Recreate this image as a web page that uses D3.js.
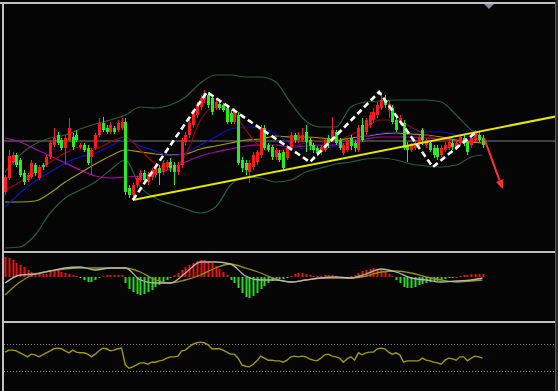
<!DOCTYPE html>
<html><head><meta charset="utf-8">
<script src="https://cdn.jsdelivr.net/npm/d3@7/dist/d3.min.js"></script>
<style>html,body{margin:0;padding:0;background:#000;}svg{display:block;}</style>
</head><body>
<svg id="c" width="558" height="391"></svg>
<script>
// ---- Data (price units) ----
const opens  = [58,72,88,95,90,77,70,73,85,72,85,85,93,105,115,110,102,110,113,115,103,105,102,93,102,115,127,122,118,122,120,122,128,62,55,65,70,77,68,73,75,82,78,83,88,85,78,85,108,115,125,135,143,150,155,152,142,146,145,142,137,128,135,90,87,78,83,88,95,122,105,103,93,97,98,92,103,115,110,110,118,110,105,102,98,100,112,110,118,110,97,100,112,107,100,125,118,125,130,135,142,150,140,142,130,128,127,105,100,102,107,120,105,107,102,102,95,100,102,107,102,107,112,108,105,110,115,112];
const closes = [73,94,95,85,75,68,75,87,77,83,83,93,107,112,107,102,112,122,103,110,105,100,87,100,115,127,120,118,125,118,127,128,58,55,65,72,77,70,75,80,82,77,87,88,82,78,85,110,115,127,138,145,152,157,145,138,148,142,140,128,128,138,87,82,80,87,95,98,122,102,100,93,100,90,82,102,115,110,115,115,108,104,100,97,103,110,107,120,107,102,105,110,104,102,122,110,130,135,138,145,150,145,146,128,120,132,102,100,105,107,112,110,110,100,95,93,102,105,108,103,107,113,107,98,112,117,110,105];
const highs  = [75,100,98,97,92,80,77,90,87,85,87,95,110,122,118,112,115,132,117,120,107,107,105,102,117,132,133,125,128,124,130,132,132,65,67,74,80,80,78,82,85,85,90,90,92,88,88,112,118,130,140,148,155,160,158,155,152,150,147,145,140,142,138,93,90,90,98,100,125,125,107,105,102,100,100,105,118,117,118,122,125,112,107,104,105,112,115,133,120,112,107,112,115,110,125,132,132,138,142,148,158,155,150,145,132,135,130,108,107,110,115,122,112,110,105,105,105,108,110,110,110,115,115,110,115,120,118,115];
const lows   = [55,70,85,83,73,65,68,71,74,70,80,83,91,103,105,100,85,108,100,108,101,98,85,75,100,113,118,116,116,116,118,120,55,52,50,62,68,67,65,70,72,65,75,80,78,65,75,82,105,112,122,132,140,147,142,135,140,140,138,126,126,126,85,78,75,67,80,85,92,100,98,90,90,88,80,90,100,107,107,108,98,100,97,94,95,98,102,108,105,100,95,98,100,98,98,108,115,122,127,132,140,142,132,126,118,125,100,88,98,100,104,105,102,98,92,90,93,98,100,100,100,105,104,95,102,108,108,102];

// indicator lines, sampled at these candle indices
const lineIdx  = [0,4,8,12,16,20,24,28,32,36,40,44,48,52,56,60,64,68,72,76,80,84,88,92,96,100,104,108,112,116,120,124,127];
const bbUpper  = [78,95,106,112,115,121,126,130,135,143,142,145,153,167,175,175,173,173,168,147,129,123,123,143,148,149,150,150,150,148,135,120,112];
const bbLower  = [2,3,15,37,52,60,68,80,90,63,52,46,41,37,43,65,73,72,68,70,78,82,86,88,91,92,90,86,84,83,85,93,95];
const maRed    = [60,68,78,88,97,103,101,108,113,100,86,80,95,130,143,141,120,103,98,103,107,110,110,115,123,130,130,123,115,110,108,110,108];
const maBlue   = [43,57,69,78,87,93,97,104,110,104,99,94,97,105,113,121,123,122,116,106,101,101,104,109,114,117,118,118,118,118,115,113,110];
const maOlive  = [48,48,49,57,68,77,86,94,100,98,96,95,96,101,104,107,110,111,114,113,113,112,110,112,114,116,117,116,115,113,110,108,107];
const maPurple = [112,108,101,94,87,80,74,72,73,74,77,81,88,94,98,101,104,105,105,103,104,105,105,108,111,113,113,113,112,111,110,108,108];
const refPrice = 109;

// pattern drawings: [candle index, price]
const wPattern  = [[34,50],[53.7,158],[81.1,88],[99.5,158],[113.8,83],[125.3,118]];
const trendLine = [[34,50],[147.1,134]];
const arrowLine = [[127.4,112],[132.4,61]];

// MACD
const macdHist = [20,19,17,14,12,10,7,5,4,3,3,3,5,7,7,5,4,3,2,1,-1,-3,-5,-5,-3,-1,1,2,2,2,2,2,-6,-12,-15,-17,-18,-17,-15,-13,-10,-8,-5,-3,-1,2,4,7,10,12,14,16,17,17,16,14,11,8,5,2,-3,-6,-11,-16,-20,-21,-19,-16,-12,-9,-6,-4,-3,-2,-2,-1,1,3,4,4,3,2,1,1,1,2,2,2,1,-1,-1,0,1,2,4,6,7,8,9,8,7,5,3,1,-3,-6,-10,-11,-11,-10,-8,-7,-6,-5,-4,-4,-3,-2,-1,-1,0,1,2,2,3,3,3,3];
const macdLine = [-6,2,3,6,9,10,7,9,9,-3,-6,-6,4,15,15,13,1,-3,-3,-5,-3,-1,0,-1,3,8,5,-1,-3,-5,-4,-3,-1];
const signalLine = [-18,-5,3,6,8,9,9,9,9,5,-3,-6,-3,2,9,13,9,4,-2,-5,-3,-1,-1,-1,1,5,6,4,0,-3,-5,-4,-3];

// RSI
const rsi = [58,61,61,60,57,54,51,55,54,51,54,57,60,63,64,63,60,57,61,58,57,57,55,51,55,60,64,63,60,61,63,64,39,34,36,39,42,42,40,43,43,45,46,49,51,51,52,60,61,66,70,72,73,72,69,63,63,63,61,58,55,55,49,39,37,36,40,45,52,49,46,46,45,45,43,46,51,52,51,52,51,48,46,45,49,54,55,52,51,49,43,48,51,46,57,54,57,58,58,63,64,63,58,55,57,54,43,45,45,45,45,49,46,45,43,42,40,46,49,48,46,51,51,45,49,52,51,49];
const rsiLevels = [70,30];

// ---- Drawing ----
const svg = d3.select('#c');
const W = 558, H = 391, R = 555;
svg.append('rect').attr('width',W).attr('height',H).attr('fill','#050505');
svg.append('rect').attr('x',R+1).attr('width',W-R-1).attr('height',H).attr('fill','#2a2a2a');

const x = d3.scaleLinear().domain([0,127]).range([5,482.5]);
const yP = d3.scaleLinear().domain([0,247]).range([250,3]);
const yM = d3.scaleLinear().domain([-45,25]).range([322,252]);
const yR = d3.scaleLinear().domain([0,100]).range([391,324]);

const defs = svg.append('defs');
defs.append('clipPath').attr('id','cm').append('rect').attr('x',4).attr('y',4).attr('width',R-4).attr('height',247);
defs.append('clipPath').attr('id','cd').append('rect').attr('x',4).attr('y',254).attr('width',R-4).attr('height',67);
defs.append('clipPath').attr('id','cr').append('rect').attr('x',4).attr('y',324).attr('width',R-4).attr('height',67);

const main = svg.append('g').attr('clip-path','url(#cm)');
const macdG = svg.append('g').attr('clip-path','url(#cd)');
const rsiG = svg.append('g').attr('clip-path','url(#cr)');

const sampled = (arr, ys) => d3.line().x((d,i)=>x(lineIdx[i])).y(d=>ys(d)).curve(d3.curveMonotoneX)(arr);

// reference horizontal
main.append('line').attr('x1',4).attr('x2',R).attr('y1',yP(refPrice)).attr('y2',yP(refPrice))
  .attr('stroke','#7c7c7c').attr('stroke-width',1);

// bands & MAs
[[bbUpper,'#275e42',1.2],[bbLower,'#275e42',1.2],[maPurple,'#b000b0',1.2],[maOlive,'#a89c00',1.2],[maBlue,'#1010c8',1.2],[maRed,'#a00000',1.2]]
  .forEach(([arr,col,w])=>{
    main.append('path').attr('d',sampled(arr,yP)).attr('fill','none').attr('stroke',col).attr('stroke-width',w);
  });

// candles
const cd = d3.range(opens.length).map(i=>({i,o:opens[i],c:closes[i],h:highs[i],l:lows[i]}));
const col = d => d.c >= d.o ? '#ff1a1a' : '#22ee22';
const cg = main.append('g');
cg.selectAll('line.w').data(cd).join('line')
  .attr('x1',d=>Math.round(x(d.i))+0.5).attr('x2',d=>Math.round(x(d.i))+0.5)
  .attr('y1',d=>yP(d.h)).attr('y2',d=>yP(d.l)).attr('stroke',col).attr('stroke-width',1);
cg.selectAll('rect.b').data(cd).join('rect')
  .attr('x',d=>Math.round(x(d.i))-1).attr('width',3)
  .attr('y',d=>yP(Math.max(d.o,d.c)))
  .attr('height',d=>Math.max(1,Math.abs(yP(d.o)-yP(d.c))))
  .attr('fill',col);

// trend line
main.append('line').attr('x1',x(trendLine[0][0])).attr('y1',yP(trendLine[0][1]))
  .attr('x2',x(trendLine[1][0])).attr('y2',yP(trendLine[1][1]))
  .attr('stroke','#e6e600').attr('stroke-width',2);

// W pattern dashed
main.append('path').attr('d',d3.line().x(d=>x(d[0])).y(d=>yP(d[1]))(wPattern))
  .attr('fill','none').attr('stroke','#fff').attr('stroke-width',2.6)
  .attr('stroke-dasharray','6,3.5').attr('stroke-linejoin','miter');

// red arrow
{
  const x1 = x(arrowLine[0][0]), y1 = yP(arrowLine[0][1]);
  const x2 = x(arrowLine[1][0]), y2 = yP(arrowLine[1][1]);
  const ang = Math.atan2(y2-y1, x2-x1);
  const L = 9, Wd = 4;
  const bx = x2 - L*Math.cos(ang), by = y2 - L*Math.sin(ang);
  main.append('line').attr('x1',x1).attr('y1',y1).attr('x2',bx).attr('y2',by)
    .attr('stroke','#ff3333').attr('stroke-width',2);
  const px = -Math.sin(ang), py = Math.cos(ang);
  main.append('path').attr('d',`M${x2},${y2}L${bx+px*Wd},${by+py*Wd}L${bx-px*Wd},${by-py*Wd}Z`).attr('fill','#ff3333');
}

// MACD
const hb = d3.range(macdHist.length).map(i=>({i,v:macdHist[i]}));
macdG.selectAll('rect').data(hb).join('rect')
  .attr('x',d=>Math.round(x(d.i))-0.5).attr('width',2)
  .attr('y',d=>Math.min(yM(d.v),yM(0)))
  .attr('height',d=>Math.max(1,Math.abs(yM(d.v)-yM(0))))
  .attr('fill',d=>d.v>=0?'#ee1111':'#22dd22');
macdG.append('path').attr('d',sampled(signalLine,yM)).attr('fill','none').attr('stroke','#9a9400').attr('stroke-width',1.3);
macdG.append('path').attr('d',sampled(macdLine,yM)).attr('fill','none').attr('stroke','#b4b4b4').attr('stroke-width',1.3);

// RSI
rsiLevels.forEach(v=>{
  rsiG.append('line').attr('x1',4).attr('x2',R).attr('y1',Math.round(yR(v))+0.5).attr('y2',Math.round(yR(v))+0.5)
    .attr('stroke','#8a8a8a').attr('stroke-width',1).attr('stroke-dasharray','1,2');
});
rsiG.append('path').attr('d',d3.line().x((d,i)=>x(i)).y(d=>yR(d))(rsi))
  .attr('fill','none').attr('stroke','#a39a00').attr('stroke-width',1.4);

// frame
svg.append('rect').attr('x',0).attr('y',2).attr('width',R+1).attr('height',2).attr('fill','#c0c0c0');
svg.append('rect').attr('x',2).attr('y',2).attr('width',2).attr('height',H).attr('fill','#c0c0c0');
svg.append('rect').attr('x',2).attr('y',251).attr('width',R-1).attr('height',2).attr('fill','#c0c0c0');
svg.append('rect').attr('x',2).attr('y',321).attr('width',R-1).attr('height',2).attr('fill','#c0c0c0');
svg.append('rect').attr('x',R).attr('y',2).attr('width',1).attr('height',H).attr('fill','#5a5a5a');
// marker triangle
svg.append('path').attr('d','M484,4L494,4L489,9Z').attr('fill','#7f8ea3');
</script>
</body></html>
